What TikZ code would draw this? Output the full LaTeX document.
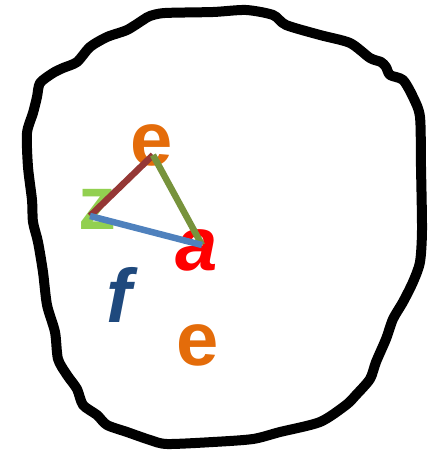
\documentclass[tikz,border=0pt]{standalone}
\usepackage{fontspec}
\setmainfont{Liberation Sans}
\usepackage{tikz}
\usetikzlibrary{positioning, calc}
\usepackage{xcolor}
\definecolor{letterorange}{RGB}{228, 108, 10}
\definecolor{lettergreen}{RGB}{146, 208, 80}
\definecolor{letterred}{RGB}{255, 0, 0}
\definecolor{letterblue}{RGB}{31, 73, 125}
\definecolor{edgebrown}{RGB}{149, 55, 53}
\definecolor{edgeolive}{RGB}{119, 147, 60}
\definecolor{edgeblue}{RGB}{79, 129, 189}

\begin{document}
\begin{tikzpicture}[
  x=1pt, y=-1pt,
  letter/.style = {inner sep=0pt, font=\fontsize{76}{76}\selectfont\bfseries},
  edge/.style   = {line width=6.5pt},
  blob/.style   = {line width=10pt, line join=round}
]
\useasboundingbox (0,0) rectangle (433,452);

% outline
\draw[blob] plot[smooth cycle, tension=0.45] coordinates {
  (213,12) (246,10) (273,15) (286,25) (320,35) (350,43) (370,58)
  (381,62) (386,67) (390,75) (403,80) (413,97) (420,117) (421,167)
  (422,230) (420,262) (413,282) (403,302) (393,319) (386,339)
  (376,362) (370,379) (356,395) (346,405) (320,422) (280,432)
  (253,439) (213,442) (167,444) (150,440) (127,432) (107,425)
  (97,415) (83,405) (77,389) (67,375) (58,359) (55,332) (47,305)
  (43,272) (38,242) (33,222) (32,200) (28,167) (27,133) (33,113)
  (37,97) (40,83) (53,73) (63,68) (77,62) (90,47) (107,37)
  (127,30) (143,20) (150,16) (165,13)};

% letters
\node[letter, text=letterorange] (etop) at (152,145) {e};
\node[letter, text=lettergreen]  (z)    at (97,209)  {z};
\node[letter, text=letterred, font=\fontsize{76}{76}\selectfont\bfseries\itshape]
                                 (a)    at (197,250) {a};
\node[letter, text=letterblue, font=\fontsize{76}{76}\selectfont\bfseries\itshape]
                                 (f)    at (119,295) {f};
\node[letter, text=letterorange] (ebot) at (198,345) {e};

% triangle
\coordinate (ve) at (153,155);
\coordinate (vz) at (90,216);
\coordinate (va) at (202,245);
\draw[edge, edgebrown] (vz) -- (ve);
\draw[edge, edgeolive] (ve) -- (va);
\draw[edge, edgeblue]  (vz) -- (va);
\end{tikzpicture}
\end{document}
